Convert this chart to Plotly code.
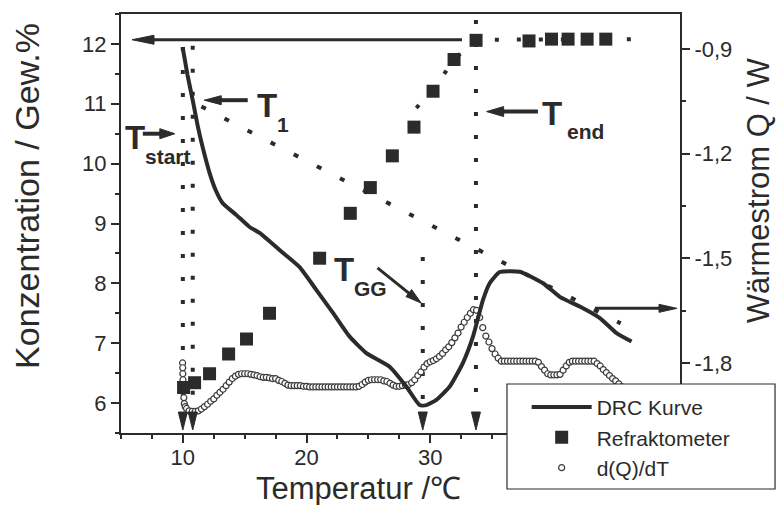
import math
import plotly.graph_objects as go

INK = "#2b2b2b"
FONT = "Liberation Sans, Arial, Helvetica, sans-serif"

# Refraktometer: Konzentration / Gew.% (linke Achse)
refr_T = [10.06, 10.95, 12.16, 13.70, 15.15, 17.01, 21.06, 23.54, 25.16, 26.94,
          28.69, 30.23, 31.93, 33.71, 37.99, 39.81, 41.15, 42.69, 44.20]
refr_c = [6.26, 6.34, 6.49, 6.82, 7.07, 7.50, 8.42, 9.17, 9.60, 10.13,
          10.61, 11.21, 11.74, 12.06, 12.05, 12.08, 12.08, 12.08, 12.08]

# DRC Kurve: Wärmestrom Q / W (rechte Achse)
drc_T = [9.98, 10.38, 10.81, 11.19, 11.62, 12.16, 12.65, 13.21, 14.34, 15.40,
         16.21, 17.82, 19.44, 20.79, 22.14, 23.49, 24.84, 26.72, 28.07, 29.15,
         29.69, 30.50, 31.58, 32.65, 33.46, 34.27, 34.81, 35.62, 37.24, 39.13,
         40.48, 42.10, 43.72, 45.07, 46.28]
drc_Q = [-0.895, -0.975, -1.049, -1.118, -1.184, -1.255, -1.304, -1.341, -1.376, -1.410,
         -1.427, -1.476, -1.525, -1.590, -1.656, -1.724, -1.771, -1.810, -1.867, -1.920,
         -1.920, -1.905, -1.867, -1.799, -1.724, -1.619, -1.571, -1.539, -1.538, -1.571,
         -1.610, -1.638, -1.671, -1.714, -1.738]

# d(Q)/dT, auf die Skala der linken Achse gelegt
dqdt_T = [9.98, 9.99, 10.0, 10.01, 10.03, 10.05, 10.08, 10.12, 10.2, 10.3,
          10.5, 10.75,
          11.0, 11.25, 11.5, 11.75, 12.0, 12.25, 12.5, 12.75,
          13.0, 13.25, 13.5, 13.75, 14.0, 14.25, 14.5, 14.75,
          15.0, 15.25, 15.5, 15.75, 16.0, 16.25, 16.5, 16.75,
          17.0, 17.25, 17.5, 17.75, 18.0, 18.25, 18.5, 18.75,
          19.0, 19.25, 19.5, 19.75, 20.0, 20.25, 20.5, 20.75,
          21.0, 21.25, 21.5, 21.75, 22.0, 22.25, 22.5, 22.75,
          23.0, 23.25, 23.5, 23.75, 24.0, 24.25, 24.5, 24.75,
          25.0, 25.25, 25.5, 25.75, 26.0, 26.25, 26.5, 26.75,
          27.0, 27.25, 27.5, 27.75, 28.0, 28.25, 28.5, 28.75,
          29.0, 29.25, 29.5, 29.75, 30.0, 30.25, 30.5, 30.75,
          31.0, 31.25, 31.5, 31.75, 32.0, 32.25, 32.5, 32.75,
          33.0, 33.25, 33.5, 33.75, 34.0, 34.25, 34.5, 34.75,
          35.0, 35.25, 35.5, 35.75, 36.0, 36.25, 36.5, 36.75,
          37.0, 37.25, 37.5, 37.75, 38.0, 38.25, 38.5, 38.75,
          39.0, 39.25, 39.5, 39.75, 40.0, 40.25, 40.5, 40.75,
          41.0, 41.25, 41.5, 41.75, 42.0, 42.25, 42.5, 42.75,
          43.0, 43.25, 43.5, 43.75, 44.0, 44.25, 44.5, 44.75,
          45.0, 45.25, 45.5, 45.75, 46.0]
dqdt_v = [6.67, 6.59, 6.49, 6.39, 6.29, 6.19, 6.09, 5.99, 5.94, 5.91,
          5.87, 5.86,
          5.86, 5.87, 5.90, 5.94, 5.98, 6.03, 6.07, 6.13,
          6.18, 6.23, 6.29, 6.35, 6.41, 6.45, 6.48, 6.49,
          6.49, 6.49, 6.48, 6.47, 6.46, 6.44, 6.43, 6.43,
          6.42, 6.41, 6.41, 6.38, 6.36, 6.33, 6.30, 6.29,
          6.29, 6.29, 6.29, 6.28, 6.28, 6.27, 6.27, 6.27,
          6.27, 6.27, 6.27, 6.27, 6.27, 6.27, 6.27, 6.27,
          6.27, 6.27, 6.27, 6.27, 6.27, 6.28, 6.31, 6.35,
          6.38, 6.39, 6.39, 6.39, 6.39, 6.37, 6.36, 6.33,
          6.30, 6.28, 6.28, 6.29, 6.30, 6.31, 6.34, 6.39,
          6.46, 6.52, 6.60, 6.66, 6.69, 6.71, 6.74, 6.78,
          6.83, 6.89, 6.94, 7.01, 7.09, 7.17, 7.27, 7.35,
          7.43, 7.50, 7.56, 7.55, 7.43, 7.26, 7.12, 7.02,
          6.91, 6.82, 6.75, 6.70, 6.70, 6.70, 6.70, 6.70,
          6.70, 6.70, 6.70, 6.70, 6.70, 6.70, 6.70, 6.68,
          6.61, 6.55, 6.49, 6.47, 6.47, 6.47, 6.48, 6.55,
          6.62, 6.68, 6.70, 6.70, 6.70, 6.70, 6.70, 6.70,
          6.70, 6.70, 6.66, 6.62, 6.56, 6.51, 6.46, 6.41,
          6.37, 6.32, 6.27, 6.22, 6.17]

# Kennzeichnende Temperaturen: T_start, T_1, T_GG, T_end
event_names = ["start", "1", "GG", "end"]
event_T = [10.0, 10.8, 29.4, 33.7]
event_top = [11.95, 11.97, 8.44, 12.40]
event_bottom = 5.95

# Ausgleichskurve der Refraktometerwerte und Basislinie der DRC Kurve
fit_T = [28.88, 30.58, 31.93, 33.68, 47.17]
fit_c = [10.93, 11.33, 11.74, 12.07, 12.08]
baseline_T = [11.5, 45.4]
baseline_Q = [-1.065, -1.686]

plateau_c = 12.07      # Sättigungskonzentration (Pfeil zur linken Achse)
heatflow_Q = -1.643    # Pfeil zur rechten Achse

fig = go.Figure()


def dotted(x, y, yaxis, dash, width=4):
    fig.add_trace(go.Scatter(x=x, y=y, yaxis=yaxis, mode="lines",
                             line=dict(color=INK, width=width, dash=dash),
                             showlegend=False, hoverinfo="skip"))


for t, top in zip(event_T, event_top):
    dotted([t, t], [top, event_bottom], "y", "4px,19px")
dotted(fit_T, fit_c, "y", "4px,18px")

fig.add_trace(go.Scatter(
    x=dqdt_T, y=dqdt_v, yaxis="y", mode="markers", name="d(Q)/dT", legendrank=3,
    marker=dict(symbol="circle", size=6, color="white", line=dict(color="#3a3a3a", width=1.2))))
fig.add_trace(go.Scatter(
    x=refr_T, y=refr_c, yaxis="y", mode="markers", name="Refraktometer", legendrank=2,
    marker=dict(symbol="square", size=13, color=INK)))

dotted(baseline_T, baseline_Q, "y2", "5px,21px")
fig.add_trace(go.Scatter(
    x=drc_T, y=drc_Q, yaxis="y2", mode="lines", name="DRC Kurve", legendrank=1,
    line=dict(color=INK, width=4, shape="spline", smoothing=0.5)))


def arrow(xref, x, yref, y, tip, tail, head_len, head_half, width):
    """Pfeil in Pixel-Offsets relativ zu einem Ankerpunkt (y nach oben)."""
    dx, dy = tip[0] - tail[0], tip[1] - tail[1]
    n = math.hypot(dx, dy)
    ux, uy = dx / n, dy / n
    nx, ny = -uy, ux
    bx, by = tip[0] - head_len * ux, tip[1] - head_len * uy
    sx, sy = tip[0] - 0.7 * head_len * ux, tip[1] - 0.7 * head_len * uy
    common = dict(xref=xref, yref=yref, xsizemode="pixel", ysizemode="pixel",
                  xanchor=x, yanchor=y, layer="above")
    fig.add_shape(type="line", x0=tail[0], y0=tail[1], x1=sx, y1=sy,
                  line=dict(color=INK, width=width), **common)
    path = (f"M{tip[0]:.2f},{tip[1]:.2f} "
            f"L{bx + head_half * nx:.2f},{by + head_half * ny:.2f} "
            f"L{bx - head_half * nx:.2f},{by - head_half * ny:.2f} Z")
    fig.add_shape(type="path", path=path, fillcolor=INK,
                  line=dict(color=INK, width=1), **common)


# Pfeile zu den Achsen
arrow("x domain", 0, "y", plateau_c, (11, 0), (341, 0), 22, 4.5, 3)
arrow("x domain", 1, "y2", heatflow_Q, (-3, 0), (-85, 0), 18, 4, 3)
# Pfeile zu den Kennlinien
label_y = [10.5, 11.06, 7.67, 10.87]
arrow("x", event_T[0], "y", label_y[0], (-8, 0), (-40, 0), 15, 5, 4)
arrow("x", event_T[1], "y", label_y[1], (11.5, 0), (55, 0), 17, 4.5, 4)
arrow("x", event_T[2], "y", label_y[2], (-1.5, 0), (-45.3, 35.3), 16, 4.5, 3)
arrow("x", event_T[3], "y", label_y[3], (10.7, 0), (62, 0), 17, 5, 4)

# Dreiecke am Fuß der Kennlinien
for t in event_T:
    fig.add_shape(type="path", xref="x", yref="y domain", xsizemode="pixel",
                  ysizemode="pixel", xanchor=t, yanchor=0,
                  path="M-4.5,21 L4.5,21 L0,3 Z", fillcolor=INK,
                  line=dict(color=INK, width=1), layer="above")

# Beschriftungen T_start, T_1, T_GG, T_end
label_T_shift = [(-60, -4), (62, -5), (-91, 34), (64, -2)]
label_sub_shift = [(-40, -23), (82, -24), (-71, 15), (89, -20)]
for name, t, ly, (tx, ty), (sx, sy) in zip(event_names, event_T, label_y,
                                           label_T_shift, label_sub_shift):
    fig.add_annotation(x=t, y=ly, xref="x", yref="y", text="<b>T</b>", showarrow=False,
                       xanchor="left", yanchor="middle", xshift=tx, yshift=ty,
                       font=dict(family=FONT, size=33, color=INK))
    fig.add_annotation(x=t, y=ly, xref="x", yref="y", text=f"<b>{name}</b>", showarrow=False,
                       xanchor="left", yanchor="middle", xshift=sx, yshift=sy,
                       font=dict(family=FONT, size=21, color=INK))

# Achsentitel
fig.add_annotation(x=0.424, y=-0.132, xref="paper", yref="paper", text="Temperatur /℃",
                   showarrow=False, xanchor="center", yanchor="middle",
                   font=dict(family=FONT, size=31, color=INK))
fig.add_annotation(x=-0.168, y=0.566, xref="paper", yref="paper",
                   text="Konzentration / Gew.%", textangle=-90, showarrow=False,
                   xanchor="center", yanchor="middle",
                   font=dict(family=FONT, size=34, color=INK))
fig.add_annotation(x=1.142, y=0.580, xref="paper", yref="paper",
                   text="Wärmestrom Q / W", textangle=-90, showarrow=False,
                   xanchor="center", yanchor="middle",
                   font=dict(family=FONT, size=31, color=INK))

# Legendenrahmen
fig.add_shape(type="rect", xref="paper", yref="paper", x0=0.6905, x1=1.17,
              y0=-0.1337, y1=0.117, fillcolor="white",
              line=dict(color=INK, width=1.2), layer="above")

axis_common = dict(showline=True, linewidth=2, linecolor=INK, ticks="outside",
                   ticklen=8, tickwidth=2, tickcolor=INK, showgrid=False,
                   zeroline=False, tickfont=dict(family=FONT, size=22, color=INK))

fig.update_layout(
    width=776, height=505,
    margin=dict(l=121, r=96, t=14, b=72),
    paper_bgcolor="white", plot_bgcolor="white",
    font=dict(family=FONT, color=INK),
    xaxis=dict(range=[5, 50.2], tickvals=[10, 20, 30, 40], mirror=True,
               ticklabelstandoff=-4,
               minor=dict(dtick=2.5, tick0=0, ticklen=4, tickwidth=2, tickcolor=INK,
                          ticks="outside"),
               **axis_common),
    yaxis=dict(range=[5.5, 12.5], tickvals=[6, 7, 8, 9, 10, 11, 12],
               minor=dict(dtick=0.5, tick0=5.5, ticklen=4, tickwidth=2, tickcolor=INK,
                          ticks="outside"),
               **axis_common),
    yaxis2=dict(range=[-2.0, -0.8], overlaying="y", side="right",
                tickvals=[-1.8, -1.5, -1.2, -0.9],
                ticktext=["-1,8", "-1,5", "-1,2", "-0,9"],
                minor=dict(tickvals=[-1.95, -1.65, -1.35, -1.05], ticklen=4, tickwidth=2,
                           tickcolor=INK, ticks="outside"),
                **axis_common),
    legend=dict(x=0.7257, y=0.110, xanchor="left", yanchor="top",
                bgcolor="rgba(0,0,0,0)", borderwidth=0, itemwidth=60,
                tracegroupgap=0,
                font=dict(family=FONT, size=21, color=INK)),
    showlegend=True,
)

fig.write_html("out.html")
